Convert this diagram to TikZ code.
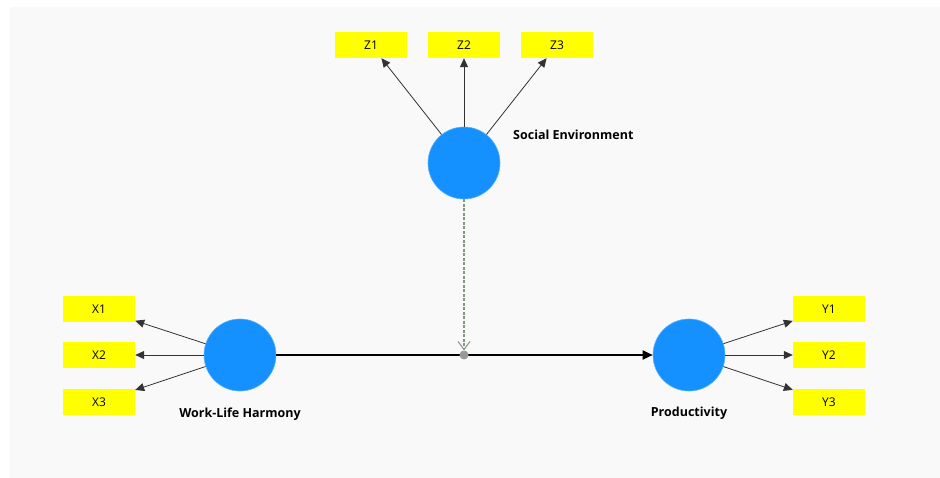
\documentclass[tikz,border=0pt]{standalone}
\usepackage{fontspec}
\setmainfont{Open Sans}
\usepackage{tikz}
\usetikzlibrary{arrows.meta, positioning}

\definecolor{canvas}{RGB}{249,249,249}
\definecolor{latent}{RGB}{20,145,255}
\definecolor{indic}{RGB}{255,255,0}
\definecolor{modline}{RGB}{130,150,130}

\begin{document}
\begin{tikzpicture}[
    x=1pt, y=-1pt,
    node distance=6pt and 5pt,
    construct/.style = {circle, fill=latent, draw=latent!70!white, line width=0.6pt, minimum size=72pt, inner sep=0pt},
    indicator/.style = {rectangle, fill=indic, minimum width=72pt, minimum height=26pt, inner sep=0pt, font=\fontsize{12}{14}\selectfont},
    title/.style = {font=\fontsize{12.5}{15}\selectfont\bfseries, inner sep=1pt},
    loading/.style = {draw=black!80, line width=0.8pt, -{Triangle[length=9pt, width=8pt]}},
    >=Stealth]

    \useasboundingbox (0,0) rectangle (940,478);
    \fill[canvas] (10,7) rectangle (940,478);

    \node[construct] (SE) at (464,163) {};
    \node[construct] (WLH) at (240,355) {};
    \node[construct] (P) at (689,355) {};

    \node[title, anchor=west] (SEl) at (512,135) {Social Environment};
    \node[title, below=15pt of WLH] (WLHl) {Work-Life Harmony};
    \node[title, below=15pt of P] (Pl) {Productivity};

    \node[indicator] (Z1) at (371,45) {Z1};
    \node[indicator] (Z2) at (464,45) {Z2};
    \node[indicator] (Z3) at (557,45) {Z3};
    \node[indicator] (X1) at (99,309) {X1};
    \node[indicator] (X2) at (99,355) {X2};
    \node[indicator] (X3) at (99,402) {X3};
    \node[indicator] (Y1) at (829,309) {Y1};
    \node[indicator] (Y2) at (829,355) {Y2};
    \node[indicator] (Y3) at (829,402) {Y3};

    % outer loadings
    \foreach \i in {1,2,3} {
        \draw[loading] (SE) -- (Z\i);
        \draw[loading] (WLH) -- (X\i);
        \draw[loading] (P) -- (Y\i);
    }

    % structural path and moderator
    \draw[line width=1.8pt, -{Triangle[length=10pt, width=9pt]}] (WLH) -- (P);
    \node[circle, fill=black!40, minimum size=9pt, inner sep=0pt] (M) at (464,355) {};
    \draw[modline, line width=1.8pt, dash pattern=on 3pt off 1.5pt, -{Straight Barb[length=8pt, width=12pt, line width=1pt]}] (SE) -- (M);
\end{tikzpicture}
\end{document}
